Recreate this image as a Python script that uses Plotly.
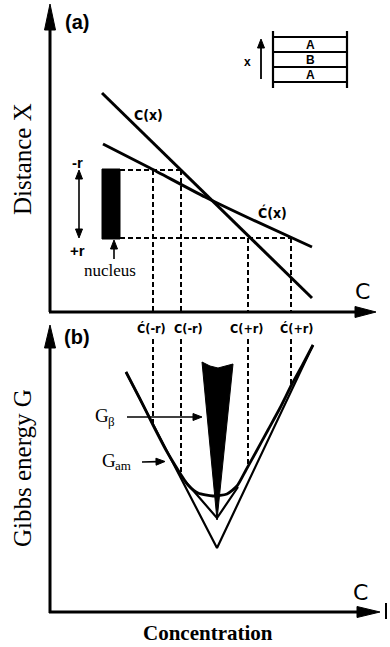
import plotly.graph_objects as go

W, H = 390, 647

# ---------------- panel (a): concentration profiles ----------------
cx_x = [102, 312]                      # C(x)
cx_y = [93, 298]
cpx_x = [103, 150, 205, 253, 312]      # C'(x)
cpx_y = [144, 168, 197, 220, 247]

nucleus_x = [102, 120, 120, 102, 102]
nucleus_y = [169, 169, 239, 239, 169]

r_levels_y = [170, 238]                # -r, +r
r_hline_x_end = [181, 290]

# concentration points: C'(-r), C(-r), C(+r), C'(+r)
conc_x = [153, 181, 248, 291]
conc_top_y = [170, 170, 238, 238]
conc_g_y = [426, 474, 466, 386]        # where the dashed lines meet G curve
conc_labels = ["Ć(-r)", "C(-r)", "C(+r)", "Ć(+r)"]
conc_label_x = [151, 188, 247, 297]

# ---------------- panel (b): Gibbs energy curves ----------------
gam_x = [126, 140, 153, 166, 178, 188, 198, 213, 227, 237, 246, 256, 268, 280, 292, 303, 313]
gam_y = [372, 399, 425, 450, 470, 485, 493, 496, 494, 486, 470, 452, 430, 408, 384, 364, 345]

outer_v_x = [126, 217, 313]
outer_v_y = [372, 548, 345]
inner_v_x = [185, 217, 238]
inner_v_y = [481, 518, 487]

wedge_x = [202, 210, 218, 226, 233, 217, 202]
wedge_y = [362, 366, 368, 366, 364, 520, 362]

# layer sketch A/B/A
layer_frame_x = [273, 347]
layer_lines_y = [37, 52, 67, 82]
layer_labels = ["A", "B", "A"]
layer_label_y = [44.5, 59.5, 74.5]

fig = go.Figure()

def line(x, y, w=2.5, dash=None, shape="linear"):
    fig.add_trace(go.Scatter(x=x, y=y, mode="lines",
                             line=dict(color="black", width=w, dash=dash, shape=shape, smoothing=0.6),
                             hoverinfo="skip", showlegend=False))

def poly(x, y):
    fig.add_trace(go.Scatter(x=x, y=y, mode="lines", fill="toself", fillcolor="black",
                             line=dict(color="black", width=1), hoverinfo="skip", showlegend=False))

def head(tipx, tipy, dx, dy, length=9, half=3.5):
    n = (dx * dx + dy * dy) ** 0.5
    ux, uy = dx / n, dy / n
    bx, by = tipx - ux * length, tipy - uy * length
    px, py = -uy * half, ux * half
    poly([bx + px, bx - px, tipx, bx + px], [by + py, by - py, tipy, by + py])

def arrow(x0, y0, x1, y1, w=1.6, both=False, length=9, half=3.5):
    n = ((x1 - x0) ** 2 + (y1 - y0) ** 2) ** 0.5
    ux, uy = (x1 - x0) / n, (y1 - y0) / n
    sx = x0 + (ux * length * 0.8 if both else 0)
    sy = y0 + (uy * length * 0.8 if both else 0)
    line([sx, x1 - ux * length * 0.8], [sy, y1 - uy * length * 0.8], w)
    head(x1, y1, ux, uy, length, half)
    if both:
        head(x0, y0, -ux, -uy, length, half)

# axes with arrowheads
line([50, 50], [312, 24], 3)
poly([44.5, 55.5, 50, 44.5], [30, 30, 4, 30])
line([49, 358], [312, 312], 3)
poly([355, 355, 376, 355], [306.5, 317.5, 312, 306.5])
line([50, 50], [613, 344], 3)
poly([44.5, 55.5, 50, 44.5], [348, 348, 325, 348])
line([49, 360], [612, 612], 3)
poly([357, 357, 380, 357], [606.5, 617.5, 612, 606.5])
line([386, 386], [603, 619], 2)

# profiles
line(cx_x, cx_y, 3)
line(cpx_x, cpx_y, 3, shape="spline")
poly(nucleus_x, nucleus_y)

# dashed construction lines
for yv, xe in zip(r_levels_y, r_hline_x_end):
    line([120, xe], [yv, yv], 2, dash="5px,3px")
for xv, yt, yg in zip(conc_x, conc_top_y, conc_g_y):
    line([xv, xv], [yt, 312], 2, dash="5px,3px")
    line([xv, xv], [339, yg], 2, dash="5px,3px")

# Gibbs curves
line(outer_v_x, outer_v_y, 2.2)
line(inner_v_x, inner_v_y, 2.2)
line(gam_x, gam_y, 2.8, shape="spline")
poly(wedge_x, wedge_y)

# layer sketch
for xv in layer_frame_x:
    line([xv, xv], [31, 88], 2.2)
for yv in layer_lines_y:
    line([layer_frame_x[0], layer_frame_x[1]], [yv, yv], 2)

# small arrows
arrow(79, 170, 79, 238, w=1.6, both=True)
arrow(114, 259, 114, 240, w=1.6)
arrow(261, 79, 261, 39, w=1.8)
arrow(127, 417, 202, 417, w=1.6)
arrow(142, 462, 165, 461.5, w=1.6)

ann = []
def text(x, y, s, size, family="Liberation Sans, Arial, sans-serif", angle=0, xanchor="center", bold=False):
    if bold:
        s = "<b>" + s + "</b>"
    ann.append(dict(x=x, y=y, xref="x", yref="y", text=s, showarrow=False,
                    font=dict(size=size, family=family, color="black"),
                    textangle=angle, xanchor=xanchor, yanchor="middle"))

narrow = "DejaVu Sans Condensed, Liberation Sans Narrow, sans-serif"
serif = "Liberation Serif, Times New Roman, serif"

text(77, 22, "(a)", 20, bold=True)
text(77, 337, "(b)", 20, bold=True)
text(22, 159, "Distance X", 25, family=serif, angle=-90)
text(22, 468, "Gibbs energy G", 25, family=serif, angle=-90)
text(208, 633, "Concentration", 21, family=serif, bold=True)
text(362, 291, "C", 22, family="DejaVu Sans, sans-serif")
text(360, 592, "C", 22, family="DejaVu Sans, sans-serif")
text(148, 115, "C(x)", 14, family=narrow, bold=True)
text(272, 212, "Ć(x)", 14, family=narrow, bold=True)
for lx, lab in zip(conc_label_x, conc_labels):
    text(lx, 328, lab, 12.5, family=narrow, bold=True)
text(77, 162, "-r", 15, bold=True)
text(77, 250, "+r", 15, bold=True)
text(110, 270, "nucleus", 17, family=serif)
# G_beta and G_am labels (subscripts as separate smaller texts)
text(111, 415, "G", 19, family=serif, xanchor="right")
text(106, 421, "β", 13, family=serif, xanchor="left")
text(118, 460, "G", 19, family=serif, xanchor="right")
text(113, 465, "am", 13, family=serif, xanchor="left")
for lab, ly in zip(layer_labels, layer_label_y):
    text(310, ly, lab, 12, bold=True)
text(247, 62, "x", 12, bold=True)

fig.update_layout(
    width=W, height=H, autosize=False,
    margin=dict(l=0, r=0, t=0, b=0),
    paper_bgcolor="white", plot_bgcolor="white",
    xaxis=dict(range=[0, W], visible=False, fixedrange=True),
    yaxis=dict(range=[H, 0], visible=False, fixedrange=True),
    annotations=ann, showlegend=False,
)

fig.write_html("out.html", config={"displayModeBar": False})
